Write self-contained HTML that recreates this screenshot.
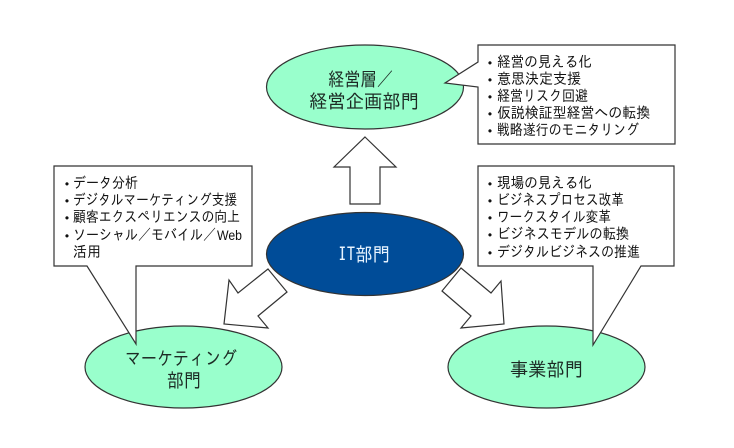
<!DOCTYPE html>
<html lang="ja">
<head>
<meta charset="utf-8">
<title>IT部門</title>
<style>
html,body{margin:0;padding:0;background:#fff;width:734px;height:448px;overflow:hidden}
svg{display:block}
text{font-family:"IPAGothic","Liberation Sans","Noto Sans CJK JP",sans-serif;fill:#111}
.t{font-size:15px}
.w{font-family:"Liberation Sans",sans-serif;font-size:14px}
.b{font-family:"Liberation Sans",sans-serif;font-size:12px;text-anchor:middle}
.l{font-size:19px;fill:#1c2a24}
.s{stroke:#333;stroke-width:1.2;stroke-linejoin:miter}
</style>
</head>
<body>
<svg width="734" height="448" viewBox="0 0 734 448" xmlns="http://www.w3.org/2000/svg">
<!-- ellipses -->
<ellipse class="s" cx="365" cy="87" rx="98.5" ry="42" fill="#99ffcc"/>
<ellipse class="s" cx="365" cy="254" rx="98.5" ry="41.5" fill="#004c98"/>
<ellipse class="s" cx="183.500" cy="367" rx="98.500" ry="41" fill="#99ffcc"/>
<ellipse class="s" cx="546.500" cy="367" rx="98.500" ry="41" fill="#99ffcc"/>

<!-- arrows -->
<polygon class="s" fill="#fff" points="365,137 396,167 380,167 380,204 350,204 350,167 334,167"/>
<polygon class="s" fill="#fff" points="268,269 287,292 258,316 268,328 224,324 229,280 238,293"/>
<polygon class="s" fill="#fff" points="461,268 442,291 471,316 461,328 504,324 501,281 491,293"/>

<!-- callouts -->
<polygon class="s" fill="#fff" points="478,45 675,45 675,144 478,144 478,87 445,83 478,62"/>
<polygon class="s" fill="#fff" points="54,166 252,166 252,266 136,266 136,344 87,266 54,266"/>
<polygon class="s" fill="#fff" points="478,166 674,166 674,266 641,266 593,345 593,266 478,266"/>

<!-- ellipse labels -->
<text class="l" x="328" y="86" textLength="65" lengthAdjust="spacingAndGlyphs">経営層／</text>
<text class="l" x="309" y="108" textLength="110" lengthAdjust="spacingAndGlyphs">経営企画部門</text>
<text class="l" x="338" y="261" textLength="52" lengthAdjust="spacingAndGlyphs" style="fill:#e8f4ff">IT部門</text>
<text class="l" x="125" y="365" textLength="112" lengthAdjust="spacingAndGlyphs">マーケティング</text>
<text class="l" x="167" y="387" textLength="34" lengthAdjust="spacingAndGlyphs">部門</text>
<text class="l" x="510" y="376" textLength="73" lengthAdjust="spacingAndGlyphs">事業部門</text>

<!-- top callout -->
<text class="b" x="490" y="67">•</text><text class="t" x="497" y="67" textLength="95" lengthAdjust="spacingAndGlyphs">経営の見える化</text>
<text class="b" x="490" y="84">•</text><text class="t" x="497" y="84" textLength="84" lengthAdjust="spacingAndGlyphs">意思決定支援</text>
<text class="b" x="490" y="101">•</text><text class="t" x="497" y="101" textLength="91" lengthAdjust="spacingAndGlyphs">経営リスク回避</text>
<text class="b" x="490" y="118">•</text><text class="t" x="497" y="118" textLength="153" lengthAdjust="spacingAndGlyphs">仮説検証型経営への転換</text>
<text class="b" x="490" y="135">•</text><text class="t" x="497" y="135" textLength="142" lengthAdjust="spacingAndGlyphs">戦略遂行のモニタリング</text>

<!-- left callout -->
<text class="b" x="67" y="188">•</text><text class="t" x="73" y="188" textLength="65" lengthAdjust="spacingAndGlyphs">データ分析</text>
<text class="b" x="67" y="205">•</text><text class="t" x="73" y="205" textLength="164" lengthAdjust="spacingAndGlyphs">デジタルマーケティング支援</text>
<text class="b" x="67" y="222">•</text><text class="t" x="73" y="222" textLength="167" lengthAdjust="spacingAndGlyphs">顧客エクスペリエンスの向上</text>
<text class="b" x="67" y="240">•</text><text class="t" x="73" y="240" textLength="143" lengthAdjust="spacingAndGlyphs">ソーシャル／モバイル／</text><text class="w" x="217" y="240" textLength="25" lengthAdjust="spacingAndGlyphs">Web</text>
<text class="t" x="73" y="257" textLength="28" lengthAdjust="spacingAndGlyphs">活用</text>

<!-- right callout -->
<text class="b" x="490" y="188">•</text><text class="t" x="497" y="188" textLength="95" lengthAdjust="spacingAndGlyphs">現場の見える化</text>
<text class="b" x="490" y="205">•</text><text class="t" x="497" y="205" textLength="127" lengthAdjust="spacingAndGlyphs">ビジネスプロセス改革</text>
<text class="b" x="490" y="222">•</text><text class="t" x="497" y="222" textLength="114" lengthAdjust="spacingAndGlyphs">ワークスタイル変革</text>
<text class="b" x="490" y="239">•</text><text class="t" x="497" y="239" textLength="132" lengthAdjust="spacingAndGlyphs">ビジネスモデルの転換</text>
<text class="b" x="490" y="257">•</text><text class="t" x="497" y="257" textLength="143" lengthAdjust="spacingAndGlyphs">デジタルビジネスの推進</text>
</svg>
</body>
</html>
